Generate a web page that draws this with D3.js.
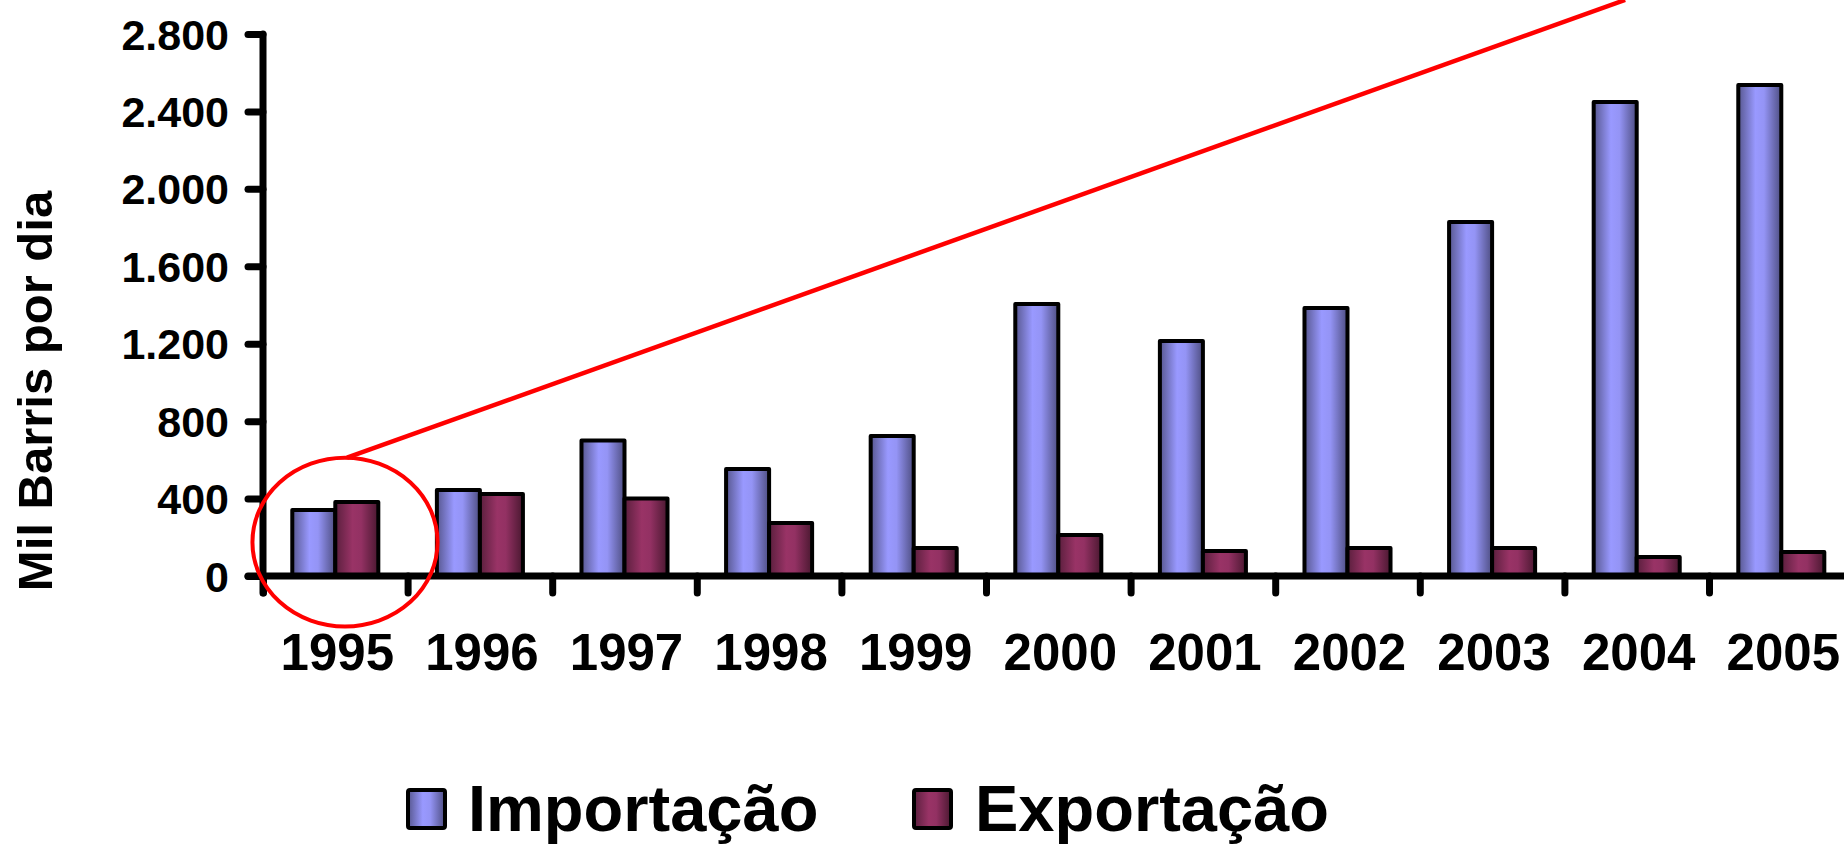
<!DOCTYPE html>
<html>
<head>
<meta charset="utf-8">
<script src="https://cdn.jsdelivr.net/npm/d3@7/dist/d3.min.js"></script>
<style>
  html, body { margin: 0; padding: 0; background: #fff; overflow: hidden; }
  svg { display: block; font-family: "Liberation Sans", Arial, sans-serif; font-weight: bold; }
</style>
</head>
<body>
<svg id="chart" width="1844" height="844"></svg>
<script>
// ---- data ----
const years = ["1995","1996","1997","1998","1999","2000","2001","2002","2003","2004","2005"];
const seriesNames = ["Importação", "Exportação"];
const importacao = [341, 444, 700, 553, 723, 1405, 1214, 1384, 1829, 2449, 2537];
const exportacao = [382, 424, 400, 274, 145, 212, 129, 145, 145, 98, 124];
const yTicks = [0, 400, 800, 1200, 1600, 2000, 2400, 2800];
const yTitle = "Mil Barris por dia";
// annotation (in data units: band index / value)
const ellipseAnno = { bandPos: 0.567, value: 175, halfBand: 0.64, halfValue: 436 };
const lineEndAnno = { bandPos: 9.42, value: 2976 };

// ---- layout ----
const svg = d3.select("#chart");
const left = 263, right = 263 + 11 * 144.6, y0 = 576, yTop = 34;

const x = d3.scaleBand().domain(years).range([left, right]).paddingInner(0.405).paddingOuter(0.2025);
const xLin = d3.scaleLinear().domain([0, years.length]).range([left, right]);
const xSub = d3.scaleBand().domain(seriesNames).range([0, x.bandwidth()]);
const y = d3.scaleLinear().domain([0, 2800]).range([y0, yTop]);

const colors = {
  "Importação": ["#57578f", "#9999ff", "#9494f5", "#4e4e82"],
  "Exportação": ["#5a1f3d", "#993366", "#933163", "#4a1830"]
};
const defs = svg.append("defs");
seriesNames.forEach((s, i) => {
  const g = defs.append("linearGradient").attr("id", "g" + i)
    .attr("x1", "0%").attr("x2", "100%").attr("y1", "0%").attr("y2", "0%");
  const c = colors[s];
  g.append("stop").attr("offset", "0%").attr("stop-color", c[0]);
  g.append("stop").attr("offset", "40%").attr("stop-color", c[1]);
  g.append("stop").attr("offset", "60%").attr("stop-color", c[2]);
  g.append("stop").attr("offset", "100%").attr("stop-color", c[3]);
});

// ---- bars ----
const rows = years.map((yr, i) => ({ year: yr, values: [importacao[i], exportacao[i]] }));
const groups = svg.append("g").selectAll("g").data(rows).join("g")
  .attr("transform", d => `translate(${x(d.year)},0)`);
groups.selectAll("rect").data(d => d.values.map((v, i) => ({ s: seriesNames[i], i, v })))
  .join("rect")
  .attr("x", d => xSub(d.s))
  .attr("width", xSub.bandwidth())
  .attr("y", d => y(d.v))
  .attr("height", d => y(0) - y(d.v))
  .attr("fill", d => `url(#g${d.i})`)
  .attr("stroke", "#000")
  .attr("stroke-width", 4)
  .attr("stroke-linejoin", "round");

// ---- axes ----
const yAxis = d3.axisLeft(y).tickValues(yTicks).tickSize(15).tickPadding(19)
  .tickFormat(d => d3.format(",")(d).replace(/,/g, "."));
const gy = svg.append("g").attr("transform", `translate(${left},0)`).call(yAxis);
gy.select(".domain").remove();
gy.selectAll(".tick line").attr("stroke", "#000").attr("stroke-width", 7).attr("stroke-linecap", "round");
gy.selectAll(".tick text").attr("font-size", 43).attr("font-weight", "bold")
  .attr("font-family", '"Liberation Sans", Arial, sans-serif').attr("fill", "#000").attr("dy", "0.35em");

// x boundary ticks
const xTickAxis = d3.axisBottom(xLin).tickValues(d3.range(0, years.length + 1)).tickSize(17).tickFormat("");
const gxt = svg.append("g").attr("transform", `translate(0,${y0})`).call(xTickAxis);
gxt.select(".domain").remove();
gxt.selectAll(".tick line").attr("stroke", "#000").attr("stroke-width", 7).attr("stroke-linecap", "round");

// axis lines
svg.append("line").attr("x1", left).attr("x2", left).attr("y1", yTop).attr("y2", y0 + 17)
  .attr("stroke", "#000").attr("stroke-width", 7).attr("stroke-linecap", "round");
svg.append("line").attr("x1", left - 15).attr("x2", right + 10).attr("y1", y0).attr("y2", y0)
  .attr("stroke", "#000").attr("stroke-width", 7).attr("stroke-linecap", "round");

// x labels
const xAxis = d3.axisBottom(x).tickSize(0).tickPadding(58);
const gx = svg.append("g").attr("transform", `translate(0,${y0})`).call(xAxis);
gx.select(".domain").remove();
gx.selectAll(".tick text").attr("font-size", 51).attr("font-weight", "bold")
  .attr("font-family", '"Liberation Sans", Arial, sans-serif').attr("fill", "#000")
  .attr("dx", 2);

// y title
svg.append("text").attr("transform", "translate(52,391) rotate(-90)")
  .attr("text-anchor", "middle").attr("font-size", 49).attr("fill", "#000").text(yTitle);

// ---- annotation ----
const cx = xLin(ellipseAnno.bandPos), cy = y(ellipseAnno.value);
const rx = xLin(ellipseAnno.halfBand) - xLin(0);
const ry = y(0) - y(ellipseAnno.halfValue);
svg.append("line").attr("x1", cx + 2).attr("y1", cy - ry)
  .attr("x2", xLin(lineEndAnno.bandPos)).attr("y2", y(lineEndAnno.value))
  .attr("stroke", "#ff0000").attr("stroke-width", 4.5);
svg.append("ellipse").attr("cx", cx).attr("cy", cy).attr("rx", rx).attr("ry", ry)
  .attr("fill", "none").attr("stroke", "#ff0000").attr("stroke-width", 4);

// ---- legend ----
const legendItems = [
  { name: seriesNames[0], sx: 408, tx: 468 },
  { name: seriesNames[1], sx: 914, tx: 975 }
];
const lg = svg.append("g");
legendItems.forEach((d, i) => {
  lg.append("rect").attr("x", d.sx).attr("y", 790).attr("width", 37).attr("height", 38)
    .attr("rx", 2).attr("fill", `url(#g${i})`).attr("stroke", "#000").attr("stroke-width", 4);
  lg.append("text").attr("x", d.tx).attr("y", 831).attr("font-size", 65).attr("fill", "#000").text(d.name);
});
</script>
</body>
</html>
